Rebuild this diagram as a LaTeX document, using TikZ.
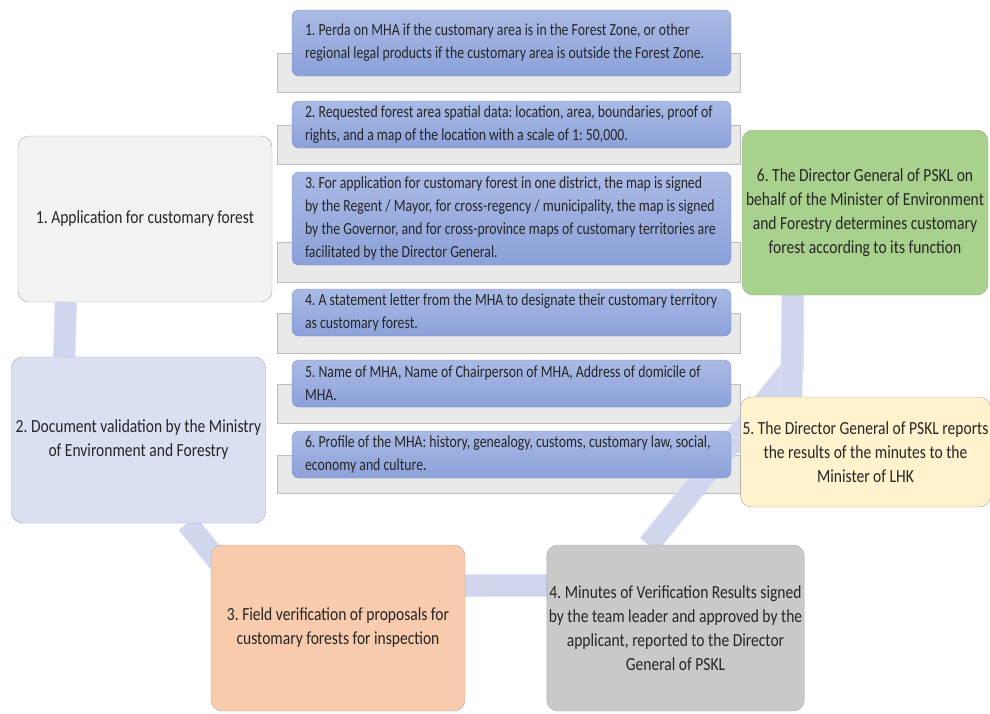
\documentclass[tikz,border=0pt]{standalone}
\usepackage{fontspec}
\newfontfamily\stagefont{Carlito}[FakeStretch=0.84]
\newfontfamily\itemfont{Carlito}[FakeStretch=0.81]
\usetikzlibrary{calc}
\definecolor{textcol}{HTML}{262626}
\definecolor{stageedge}{HTML}{A6A6A6}
\definecolor{applyfill}{HTML}{F2F2F2}
\definecolor{validfill}{HTML}{DAE0F1}
\definecolor{fieldfill}{HTML}{F8CBAD}
\definecolor{minutefill}{HTML}{C9C9C9}
\definecolor{reportfill}{HTML}{FFF2CC}
\definecolor{decreefill}{HTML}{A9D18E}
\definecolor{itemtop}{HTML}{AABAE5}
\definecolor{itembot}{HTML}{8BA1D9}
\definecolor{itemedge}{HTML}{7B8FC4}
\definecolor{shelffill}{HTML}{E9E9E9}
\definecolor{shelfedge}{HTML}{BCBCBC}
\definecolor{linkfill}{HTML}{D0D6EE}
\definecolor{linkedge}{HTML}{E0E4F4}
\pgfdeclarelayer{back}
\pgfdeclarelayer{links}
\pgfsetlayers{back,links,main}
\tikzset{
  stage/.style={draw=stageedge, rectangle, rounded corners=11pt, minimum width=254pt, minimum height=166pt, align=center, text=textcol, font=\stagefont\fontsize{18.5}{24}\selectfont, inner sep=2pt, execute at begin node={\spaceskip=0pt\xspaceskip=0pt}},
  itembox/.style={draw=itemedge, rectangle, rounded corners=7pt, top color=itemtop, bottom color=itembot, text width=413pt, inner xsep=13pt, inner ysep=1pt, minimum height=47pt, align=left, text=textcol, font=\itemfont\fontsize{17}{23}\selectfont, execute at begin node={\spaceskip=0pt\xspaceskip=0pt}},
  shelf/.style={draw=shelfedge, fill=shelffill, rectangle, minimum width=463pt, minimum height=39pt},
  link/.style={draw=linkedge, double=linkfill, double distance=21pt, line width=0.7pt, line join=round},
}
\begin{document}
\frenchspacing
\begin{tikzpicture}[x=1pt,y=-1pt]
  \useasboundingbox (0,0) rectangle (990,713);
  % process stages
  \node[stage, fill=applyfill] (apply) at (145,219) {1. Application for customary forest};
  \node[stage, fill=validfill] (valid) at (138.5,440) {2. Document validation by the Ministry\\of Environment and Forestry};
  \node[stage, fill=fieldfill] (field) at (338,628) {3. Field verification of proposals for\\customary forests for inspection};
  \node[stage, fill=minutefill, minimum width=255pt] (minute) at (675.5,628) {4. Minutes of Verification Results signed\\by the team leader and approved by the\\applicant, reported to the Director\\General of PSKL};
  \node[stage, fill=reportfill, minimum width=245pt, minimum height=110pt] (report) at (865.5,452) {5. The Director General of PSKL reports\\the results of the minutes to the\\Minister of LHK};
  \node[stage, fill=decreefill, minimum width=246pt, minimum height=165pt] (decree) at (865,212.5) {6. The Director General of PSKL on\\behalf of the Minister of Environment\\and Forestry determines customary\\forest according to its function};
  % required documents
  \node[itembox, minimum height=66pt] (doc1) at (511.5,43) {1. Perda on MHA if the customary area is in the Forest Zone, or other\\regional legal products if the customary area is outside the Forest Zone.};
  \node[itembox] (doc2) at (511.5,124.5) {2. Requested forest area spatial data: location, area, boundaries, proof of\\rights, and a map of the location with a scale of 1: 50,000.};
  \node[itembox, minimum height=93pt] (doc3) at (511.5,218.5) {3. For application for customary forest in one district, the map is signed\\by the Regent / Mayor, for cross-regency / municipality, the map is signed\\by the Governor, and for cross-province maps of customary territories are\\facilitated by the Director General.};
  \node[itembox] (doc4) at (511.5,312.5) {4. A statement letter from the MHA to designate their customary territory\\as customary forest.};
  \node[itembox] (doc5) at (511.5,383.5) {5. Name of MHA, Name of Chairperson of MHA, Address of domicile of\\MHA.};
  \node[itembox] (doc6) at (511.5,454.5) {6. Profile of the MHA: history, genealogy, customs, customary law, social,\\economy and culture.};
  \begin{pgfonlayer}{back}
    \node[shelf] (shelf1) at (508.5,72.5) {};
    \node[shelf] (shelf2) at (508.5,144.5) {};
    \node[shelf, minimum height=40pt] (shelf3) at (508.5,262) {};
    \node[shelf, minimum height=40pt] (shelf4) at (508.5,333) {};
    \node[shelf] (shelf5) at (508.5,403.5) {};
    \node[shelf, minimum height=38pt] (shelf6) at (508.5,474) {};
  \end{pgfonlayer}
  % connectors
  \coordinate (bend) at (793,367);
  \begin{pgfonlayer}{links}
    \draw[link] ([xshift=48pt]apply.south west) -- ([xshift=53pt]valid.north west);
    \draw[link] ([xshift=176pt]valid.south west) -- ([xshift=12pt,yshift=-22pt]field.north west);
    \draw[link] ([yshift=42.5pt]field.east) -- ([yshift=42.5pt]minute.west);
    \draw[link] ([xshift=102pt]minute.north west) -- (bend) -- ([xshift=51pt]decree.south west);
    \draw[link] ([xshift=51pt]decree.south west) -- ([xshift=51pt]report.north west);
    \draw[link, double distance=15pt] ([yshift=9.5pt]doc6.east) -- ([yshift=7pt]report.west);
  \end{pgfonlayer}
\end{tikzpicture}
\end{document}
